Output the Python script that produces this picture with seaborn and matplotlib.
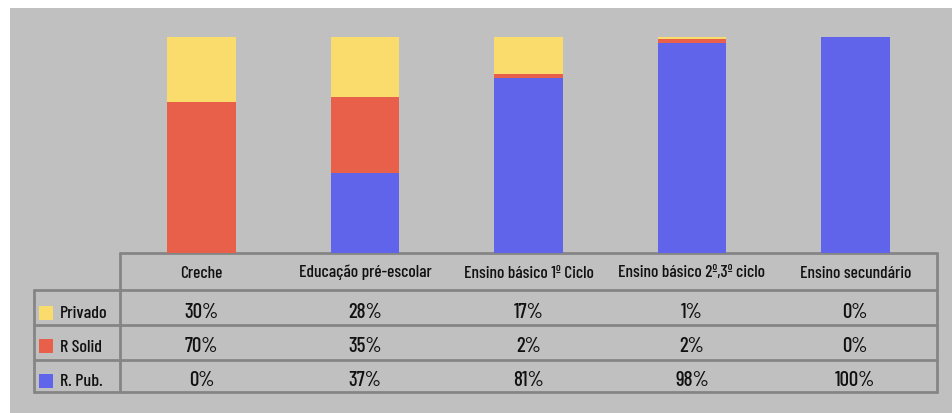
import matplotlib
matplotlib.use("Agg")
import matplotlib.pyplot as plt
from matplotlib.patches import Rectangle
import seaborn as sns
import pandas as pd

categories = ["Creche", "Educação pré-escolar", "Ensino básico 1º Ciclo",
              "Ensino básico 2º,3º ciclo", "Ensino secundário"]
privado = [30, 28, 17, 1, 0]
r_solid = [70, 35, 2, 2, 0]
r_pub = [0, 37, 81, 98, 100]
series_names = ["Privado", "R Solid", "R. Pub."]
colors = {"Privado": "#F9DC6C", "R Solid": "#E8604A", "R. Pub.": "#5F64EA"}

sns.set_theme(style="white")
plt.rcParams['font.family'] = ['Barlow Condensed', 'DejaVu Sans']

W, H = 953, 413
fig = plt.figure(figsize=(W / 100, H / 100), dpi=100)
fig.patch.set_facecolor("white")

bg = fig.add_axes([0, 0, 1, 1])
bg.set_xlim(0, W)
bg.set_ylim(H, 0)
bg.axis("off")
bg.add_patch(Rectangle((10, 8), W - 10, H - 8, facecolor="#C0C0C0", edgecolor="none", zorder=0))

x0, x1 = 120, 937
ytop, ybot = 37, 253
ax = fig.add_axes([x0 / W, (H - ybot) / H, (x1 - x0) / W, (ybot - ytop) / H])
ax.patch.set_alpha(0)

df = pd.DataFrame({"cat": categories, "Privado": privado, "R Solid": r_solid, "R. Pub.": r_pub})
totals = df[series_names].sum(axis=1)
shares = df[series_names].div(totals, axis=0) * 100
shares["cat"] = categories
bottom = [0] * len(categories)
for name in ["R. Pub.", "R Solid", "Privado"]:
    sns.barplot(data=shares, x="cat", y=name, color=colors[name], width=0.42,
                bottom=bottom, ax=ax, saturation=1, linewidth=0, order=categories)
    bottom = [b + v for b, v in zip(bottom, shares[name])]
ax.set_ylim(0, 100)
ax.set_xlim(-0.5, len(categories) - 0.5)
ax.axis("off")

lc = "#858585"
lw = 2
left = 34
rows_y = [290, 325, 360, 392]
bg.plot([x0, x1], [253, 253], color=lc, lw=lw, zorder=3)
for y in rows_y:
    bg.plot([left, x1], [y, y], color=lc, lw=lw, zorder=3)
bg.plot([x0, x0], [253, 392], color=lc, lw=lw, zorder=3)
bg.plot([x1, x1], [253, 392], color=lc, lw=lw, zorder=3)
bg.plot([left, left], [290, 392], color=lc, lw=lw, zorder=3)

slot = (x1 - x0) / len(categories)
fs_head = 12.5
fs_val = 15
tc = "#111111"
for i, c in enumerate(categories):
    cx = x0 + slot * (i + 0.5)
    bg.text(cx, 277.5, c, ha="center", va="baseline", fontsize=fs_head, fontweight=500, color=tc, zorder=4)

row_base = [318.5, 352, 386.5]
values = {"Privado": privado, "R Solid": r_solid, "R. Pub.": r_pub}
for name, yb in zip(series_names, row_base):
    bg.add_patch(Rectangle((39, yb - 13), 14, 14, facecolor=colors[name], edgecolor="none", zorder=4))
    bg.text(60, yb, name, ha="left", va="baseline", fontsize=fs_head + 0.5, fontweight=500, color=tc, zorder=4)
    for i, v in enumerate(values[name]):
        cx = x0 + slot * (i + 0.5)
        bg.text(cx, yb, f"{v}%", ha="center", va="baseline", fontsize=fs_val, fontweight=500, color=tc, zorder=4)

fig.savefig("out.png", dpi=100)
